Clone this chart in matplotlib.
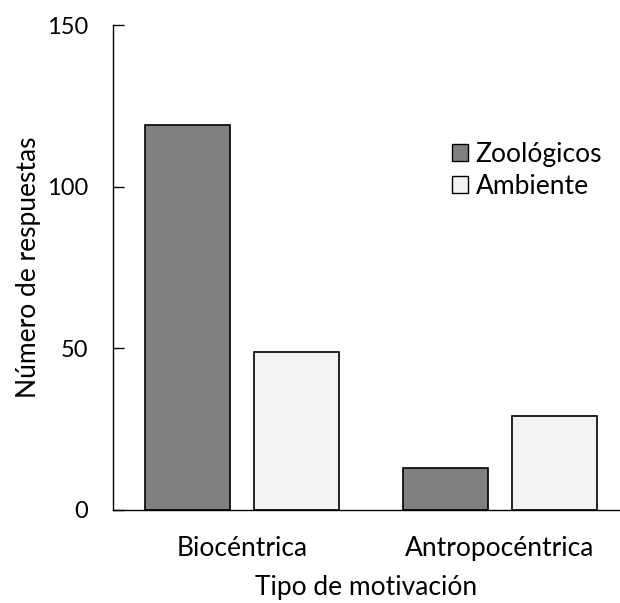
import numpy as np
import matplotlib as mpl
from matplotlib import pyplot as plt
from matplotlib.patches import Patch

# data
categories = ['Biocéntrica', 'Antropocéntrica']
series = ['Zoológicos', 'Ambiente']
zoologicos = [119, 13]
ambiente = [49, 29]
yTicks = [0, 50, 100, 150]

plt.rcParams['font.family'] = ['Lato', 'DejaVu Sans']
plt.rcParams['font.size'] = 19

f = plt.figure(figsize = (6.2, 6.03), dpi = 100)
ax1 = f.add_axes([113 / 620, 1 - 510 / 603, 1 - 113 / 620, (510 - 25) / 603])

x = np.arange(len(categories))
width = 0.33
offset = 0.21

ax1.bar(x - offset, zoologicos, width, color = '#808080',
        edgecolor = 'black', lw = 1.2, label = series[0])
ax1.bar(x + offset, ambiente, width, color = '#f2f2f2',
        edgecolor = 'black', lw = 1.2, label = series[1])

ax1.set_xlim(-0.5, 1.465)
ax1.set_ylim(0, 150)
ax1.set_yticks(yTicks)
ax1.set_xticks(x)
ax1.set_xticklabels(categories)

for s in ['top', 'right']:
    ax1.spines[s].set_visible(False)
for s in ['left', 'bottom']:
    ax1.spines[s].set_linewidth(1.0)
    ax1.spines[s].set_color('black')

ax1.tick_params(axis = 'y', direction = 'in', length = 8, width = 1.0,
                pad = 18, labelsize = 17)
ax1.tick_params(axis = 'x', length = 0, pad = 19)

ax1.set_xlabel('Tipo de motivación', labelpad = 10)
ax1.set_ylabel('Número de respuestas', labelpad = 4)

handles = [Patch(facecolor = '#808080', edgecolor = 'black', lw = 1.0),
           Patch(facecolor = '#f2f2f2', edgecolor = 'black', lw = 1.0)]
leg = ax1.legend(handles, series,
                 loc = 'upper left',
                 bbox_to_anchor = ((452 - 113) / 507, 1 - (142 - 25) / 485),
                 frameon = False,
                 handlelength = 0.6, handleheight = 0.6,
                 handletextpad = 0.3, labelspacing = 0.25,
                 borderaxespad = 0, borderpad = 0)

f.savefig('out.png', dpi = 100)
plt.close()
